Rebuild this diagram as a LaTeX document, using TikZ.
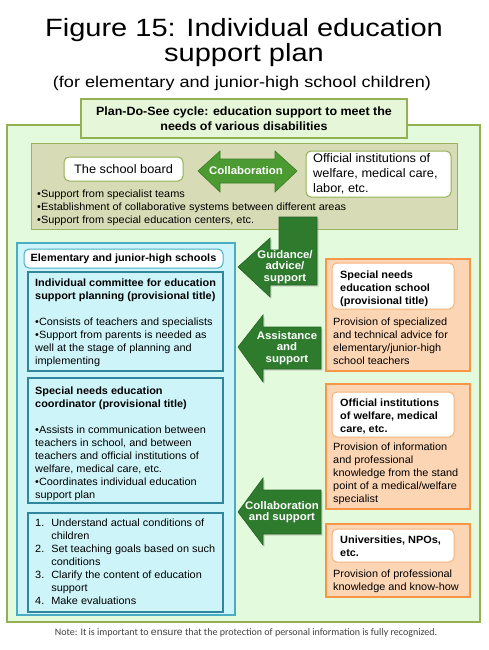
\documentclass[tikz,border=0pt]{standalone}
\usepackage{fontspec}
\setmainfont[FakeStretch=1.04]{Liberation Sans}
\newfontfamily\titlefont[FakeStretch=1.16]{Liberation Sans}
\newfontfamily\notefont{Carlito}
\usepackage{tikz}
\usetikzlibrary{positioning,shadows}

\definecolor{palegreen}{HTML}{E4FADC}
\definecolor{headgreen}{HTML}{E6F6D8}
\definecolor{olivegreen}{HTML}{93B152}
\definecolor{olivefill}{HTML}{D7DCB6}
\definecolor{olivedge}{HTML}{9DB05A}
\definecolor{cyanfill}{HTML}{CDF4F9}
\definecolor{cyanedge}{HTML}{4BACC6}
\definecolor{tealedge}{HTML}{31859C}
\definecolor{peachfill}{HTML}{FCD5B5}
\definecolor{orangeedge}{HTML}{F79646}
\definecolor{softorange}{HTML}{F9B27A}
\definecolor{arrowgreen}{HTML}{2E7B2E}
\definecolor{arrowedge}{HTML}{276427}
\definecolor{collabgreen}{HTML}{4C9A32}
\definecolor{collabedge}{HTML}{3B7C26}
\definecolor{notegray}{HTML}{404040}

\tikzset{
  outerbox/.style={shape=rectangle, draw=olivegreen, fill=palegreen, line width=1.2pt},
  headbox/.style={shape=rectangle, draw=olivegreen, fill=headgreen, line width=1.2pt},
  olivebox/.style={shape=rectangle, draw=olivedge, fill=olivefill, line width=1pt},
  whitebox/.style={shape=rectangle, rounded corners=5pt, draw=#1, fill=white, line width=1pt},
  whitebox/.default=olivegreen,
  cyanbox/.style={shape=rectangle, draw=#1, fill=cyanfill, line width=1.1pt},
  cyanbox/.default=tealedge,
  peachbox/.style={shape=rectangle, draw=orangeedge, fill=peachfill, line width=1.2pt},
  bodytext/.style={anchor=base west, inner sep=0pt, align=left, font=\fontsize{10.5}{13}\selectfont},
  boldtext/.style={bodytext, font=\fontsize{10.5}{13}\selectfont\bfseries},
  greenarrow/.style={fill=arrowgreen, draw=arrowedge, line width=0.6pt, drop shadow={shadow xshift=1.5pt, shadow yshift=-1.5pt, opacity=.3}},
  arrowlabel/.style={align=center, text=white, inner sep=0pt, font=\fontsize{11}{11.5}\selectfont\bfseries},
}

\begin{document}
\begin{tikzpicture}[x=1pt,y=-1pt]
    \useasboundingbox (0,0) rectangle (488,650);
    % Title:
    \node[anchor=base, align=center, inner sep=0pt, font=\titlefont\fontsize{25}{25}\selectfont](TITLE) at (244, 62){Figure 15: Individual education\\support plan};
    \node[anchor=base, inner sep=0pt, font=\titlefont\fontsize{15.6}{16}\selectfont](SUBTITLE) at (242, 88){(for elementary and junior-high school children)};
    % Frames:
    \node[outerbox, minimum width=473, minimum height=497](OUTER) at (243.5, 373.5){};
    \node[headbox, minimum width=326, minimum height=39](HEAD) at (244, 118.5){} node[anchor=center, align=center, font=\fontsize{12}{15}\selectfont\bfseries] at (HEAD.center){Plan-Do-See cycle: education support to meet the\\needs of various disabilities};
    % Top panel:
    \node[olivebox, minimum width=426, minimum height=86](BOARDAREA) at (244, 186){};
    \node[whitebox, minimum width=119, minimum height=24](BOARD) at (123.5, 169){} node[anchor=center, font=\fontsize{12.3}{15}\selectfont] at (BOARD.center){The school board};
    \node[whitebox, minimum width=145, minimum height=46](OFFICIAL) at (378.5, 174){};
    \node[bodytext, font=\fontsize{12.3}{15}\selectfont](OFFICIALTXT) at (313, 192){Official institutions of\\welfare, medical care,\\labor, etc.};
    \node[bodytext](BOARDTXT) at (37, 223){\textbullet Support from specialist teams\\\textbullet Establishment of collaborative systems between different areas\\\textbullet Support from special education centers, etc.};
    \draw[fill=collabgreen, draw=collabedge, line width=0.6pt] (198,171) -- (220,151) -- (220,159) -- (275,159) -- (275,151) -- (297,171) -- (275,192) -- (275,183) -- (220,183) -- (220,192) -- cycle;
    \node[arrowlabel](COLLAB) at (246, 171){Collaboration};
    % Schools:
    \node[cyanbox=cyanedge, minimum width=218, minimum height=372](SCHOOLS) at (126, 429){};
    \node[whitebox=cyanedge, minimum width=199, minimum height=19](SCHOOLSHEAD) at (123.5, 258.5){} node[anchor=center, font=\fontsize{10.5}{13}\selectfont\bfseries] at (SCHOOLSHEAD.center){Elementary and junior-high schools};
    \node[cyanbox, minimum width=195, minimum height=99](COMMITTEE) at (125.5, 321.5){};
    \node[boldtext](COMMITTEEHEAD) at (35, 299.5){Individual committee for education\\support planning (provisional title)};
    \node[bodytext](COMMITTEETXT) at (35, 364.5){\textbullet Consists of teachers and specialists\\\textbullet Support from parents is needed as\\well at the stage of planning and\\implementing};
    \node[cyanbox, minimum width=195, minimum height=125](COORD) at (125.5, 440.5){};
    \node[boldtext](COORDHEAD) at (35, 407.5){Special needs education\\coordinator (provisional title)};
    \node[bodytext](COORDTXT) at (35, 498.5){\textbullet Assists in communication between\\teachers in school, and between\\teachers and official institutions of\\welfare, medical care, etc.\\\textbullet Coordinates individual education\\support plan};
    \node[cyanbox, minimum width=195, minimum height=99](STEPS) at (125.5, 562.5){};
    \node[bodytext](STEPSTXT) at (35, 526.5){\begin{tabular}[t]{@{}l@{\hspace{7pt}}l@{}}
        1. & Understand actual conditions of\\ & children\\
        2. & Set teaching goals based on such\\ & conditions\\
        3. & Clarify the content of education\\ & support\\
        4. & Make evaluations\end{tabular}};
    % Support bodies:
    \node[peachbox, minimum width=144, minimum height=112](SNSCHOOL) at (398, 315){};
    \node[whitebox=softorange, minimum width=122, minimum height=46](SNSCHOOLHEAD) at (393, 286){};
    \node[boldtext](SNSCHOOLNAME) at (340, 304.5){Special needs\\education school\\(provisional title)};
    \node[bodytext](SNSCHOOLTXT) at (333, 364.5){Provision of specialized\\and technical advice for\\elementary/junior-high\\school teachers};
    \node[peachbox, minimum width=144, minimum height=125](WELFARE) at (398, 446.5){};
    \node[whitebox=softorange, minimum width=122, minimum height=45](WELFAREHEAD) at (393, 414.5){};
    \node[boldtext](WELFARENAME) at (340, 432.5){Official institutions\\of welfare, medical\\care, etc.};
    \node[bodytext](WELFARETXT) at (333, 502.5){Provision of information\\and professional\\knowledge from the stand\\point of a medical/welfare\\specialist};
    \node[peachbox, minimum width=144, minimum height=73](UNIV) at (398, 560.5){};
    \node[whitebox=softorange, minimum width=122, minimum height=33](UNIVHEAD) at (393, 545.5){};
    \node[boldtext](UNIVNAME) at (340, 556.5){Universities, NPOs,\\etc.};
    \node[bodytext](UNIVTXT) at (333, 590.5){Provision of professional\\knowledge and know-how};
    % Arrows:
    \draw[greenarrow] (279,217) -- (317,217) -- (317,285) -- (270,285) -- (270,297) -- (238,267) -- (270,238) -- (270,250) -- (279,250) -- cycle;
    \node[arrowlabel](GUIDANCE) at (285, 267){Guidance/\\advice/\\support};
    \draw[greenarrow] (238,347) -- (263,315) -- (263,327) -- (321,327) -- (321,369) -- (263,369) -- (263,382) -- cycle;
    \node[arrowlabel](ASSIST) at (287, 348){Assistance\\and\\support};
    \draw[greenarrow] (238,512) -- (263,478) -- (263,490) -- (321,490) -- (321,534) -- (263,534) -- (263,545) -- cycle;
    \node[arrowlabel](COOPERATE) at (282, 512){Collaboration\\and support};
    % Note:
    \node[anchor=base, inner sep=0pt, text=notegray, font=\notefont\fontsize{10}{10}\selectfont](NOTE) at (246, 635){Note: It is important to {\rmfamily\fontsize{10}{10}\selectfont ensure} that the protection of personal information is fully recognized.};
\end{tikzpicture}
\end{document}
